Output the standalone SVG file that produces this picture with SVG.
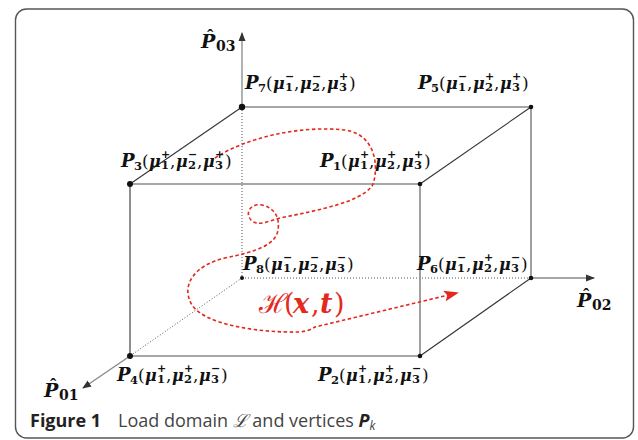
<svg xmlns="http://www.w3.org/2000/svg" width="638" height="440" viewBox="0 0 638 440">
<style>
.P{font-family:"DejaVu Serif",serif;font-weight:bold;font-style:italic;font-size:18px;fill:#111}
.M{font-family:"DejaVu Serif",serif;font-weight:bold;font-style:italic;font-size:16px;fill:#111}
.i{font-family:"DejaVu Serif",serif;font-weight:bold;font-size:11.5px;fill:#111}
.s{font-family:"DejaVu Sans",sans-serif;font-weight:bold;font-size:11px;fill:#111}
.r{font-family:"DejaVu Serif",serif;font-size:17px;fill:#111}
.AP{font-family:"DejaVu Serif",serif;font-weight:bold;font-style:italic;font-size:19px;fill:#111}
.Ah{font-family:"Liberation Serif",serif;font-weight:bold;font-size:19px;fill:#111}
.Ai{font-family:"DejaVu Serif",serif;font-weight:bold;font-size:14px;fill:#111}
.edge{stroke:#888;stroke-width:1.6;fill:none}
.dk{stroke:#333;stroke-width:1.1;fill:none}
.dot{stroke:#555;stroke-width:1;stroke-dasharray:1 2;fill:none}
.axis{stroke:#888;stroke-width:1.3;fill:none}
.red{stroke:#e3291d;stroke-width:1.6;stroke-dasharray:3.5 2.5;fill:none}
.v{fill:#111}
.cap{font-family:"Open Sans",sans-serif;font-size:18px;fill:#444}
</style>
<defs>
<marker id="ax" markerUnits="userSpaceOnUse" markerWidth="9" markerHeight="8" viewBox="0 0 9 8" refX="8" refY="4" orient="auto">
<path d="M0,0.5 L9,4 L0,7.5 z" fill="#333"/>
</marker>
<marker id="ra" markerUnits="userSpaceOnUse" markerWidth="15" markerHeight="11" viewBox="0 0 15 11" refX="13" refY="5.5" orient="auto">
<path d="M0,0 L15,5.5 L0,11 L3,5.5 z" fill="#e3291d"/>
</marker>
</defs>
<rect x="15.5" y="9" width="618" height="429" rx="11" fill="none" stroke="#555" stroke-width="1.4"/>

<g id="connectors">
<line class="dot" x1="242" y1="107" x2="242" y2="278"/>
<line class="dot" x1="242" y1="278" x2="531" y2="278" stroke="#888"/>
<line class="dot" x1="242" y1="278" x2="130" y2="356"/>
<line class="edge" x1="242" y1="107" x2="531" y2="107"/>
<line class="edge" x1="130" y1="184" x2="420" y2="184"/>
<line class="edge" x1="420" y1="184" x2="420" y2="356"/>
<line class="edge" x1="531" y1="107" x2="531" y2="278"/>
<line class="dk" x1="130" y1="184" x2="130" y2="356"/>
<line class="edge" x1="130" y1="356" x2="420" y2="356" stroke="#555"/>
<line class="dk" x1="242" y1="107" x2="130" y2="184"/>
<line class="dk" x1="531" y1="107" x2="420" y2="184"/>
<line class="dk" x1="531" y1="278" x2="420" y2="356"/>
<line class="axis" x1="242" y1="107" x2="242" y2="33" marker-end="url(#ax)"/>
<line class="axis" x1="531" y1="278" x2="594" y2="278" marker-end="url(#ax)"/>
<line class="axis" x1="130" y1="356" x2="83" y2="388" marker-end="url(#ax)"/>
<path class="red" marker-end="url(#ra)" d="M215 158 C245 138 300 125 345 130 C380 135 378 175 372 186 C360 202 320 210 280 218 C268 221 258 227 251 220 C244 212 252 203 262 205 C275 208 280 218 278 230 C276 245 255 252 225 258 C195 265 180 285 192 305 C205 325 260 333 300 332 C308 331 312 329 315 327 L457 293"/>
</g>

<g id="axis-labels">
<text><tspan class="AP" x="201" y="48">P</tspan><tspan class="Ah" x="207" y="42">ˆ</tspan><tspan class="Ai" x="216" y="51">03</tspan></text>
<text><tspan class="AP" x="577" y="307">P</tspan><tspan class="Ah" x="583" y="301">ˆ</tspan><tspan class="Ai" x="592" y="310">02</tspan></text>
<text><tspan class="AP" x="44" y="397">P</tspan><tspan class="Ah" x="50" y="391">ˆ</tspan><tspan class="Ai" x="59" y="400">01</tspan></text>
</g>

<g id="P7">
<circle class="v" cx="242" cy="107" r="3.2"/>
<text><tspan class="P" x="245" y="89">P</tspan><tspan class="i" x="258" y="92">7</tspan><tspan class="r" x="266" y="89">(</tspan><tspan class="M" x="273" y="89">μ</tspan><tspan class="s" x="285" y="80">−</tspan><tspan class="i" x="285" y="91">1</tspan><tspan class="r" x="294" y="89">,</tspan><tspan class="M" x="300" y="89">μ</tspan><tspan class="s" x="312" y="80">−</tspan><tspan class="i" x="312" y="91">2</tspan><tspan class="r" x="321" y="89">,</tspan><tspan class="M" x="327" y="89">μ</tspan><tspan class="s" x="339" y="80">+</tspan><tspan class="i" x="339" y="91">3</tspan><tspan class="r" x="349" y="89">)</tspan></text>
</g>
<g id="P5">
<circle class="v" cx="531" cy="107" r="2.3"/>
<text><tspan class="P" x="418" y="89">P</tspan><tspan class="i" x="431" y="92">5</tspan><tspan class="r" x="439" y="89">(</tspan><tspan class="M" x="446" y="89">μ</tspan><tspan class="s" x="458" y="80">−</tspan><tspan class="i" x="458" y="91">1</tspan><tspan class="r" x="467" y="89">,</tspan><tspan class="M" x="473" y="89">μ</tspan><tspan class="s" x="485" y="80">+</tspan><tspan class="i" x="485" y="91">2</tspan><tspan class="r" x="494" y="89">,</tspan><tspan class="M" x="500" y="89">μ</tspan><tspan class="s" x="512" y="80">+</tspan><tspan class="i" x="512" y="91">3</tspan><tspan class="r" x="522" y="89">)</tspan></text>
</g>
<g id="P3">
<circle class="v" cx="130" cy="184" r="3"/>
<text><tspan class="P" x="121" y="167">P</tspan><tspan class="i" x="134" y="170">3</tspan><tspan class="r" x="142" y="167">(</tspan><tspan class="M" x="149" y="167">μ</tspan><tspan class="s" x="161" y="158">+</tspan><tspan class="i" x="161" y="169">1</tspan><tspan class="r" x="170" y="167">,</tspan><tspan class="M" x="176" y="167">μ</tspan><tspan class="s" x="188" y="158">−</tspan><tspan class="i" x="188" y="169">2</tspan><tspan class="r" x="197" y="167">,</tspan><tspan class="M" x="203" y="167">μ</tspan><tspan class="s" x="215" y="158">+</tspan><tspan class="i" x="215" y="169">3</tspan><tspan class="r" x="225" y="167">)</tspan></text>
</g>
<g id="P1">
<circle class="v" cx="420" cy="184" r="2.3"/>
<text><tspan class="P" x="320" y="167">P</tspan><tspan class="i" x="333" y="170">1</tspan><tspan class="r" x="341" y="167">(</tspan><tspan class="M" x="348" y="167">μ</tspan><tspan class="s" x="360" y="158">+</tspan><tspan class="i" x="360" y="169">1</tspan><tspan class="r" x="369" y="167">,</tspan><tspan class="M" x="375" y="167">μ</tspan><tspan class="s" x="387" y="158">+</tspan><tspan class="i" x="387" y="169">2</tspan><tspan class="r" x="396" y="167">,</tspan><tspan class="M" x="402" y="167">μ</tspan><tspan class="s" x="414" y="158">+</tspan><tspan class="i" x="414" y="169">3</tspan><tspan class="r" x="424" y="167">)</tspan></text>
</g>
<g id="P8">
<circle class="v" cx="242" cy="278" r="2"/>
<text><tspan class="P" x="243" y="270">P</tspan><tspan class="i" x="256" y="273">8</tspan><tspan class="r" x="264" y="270">(</tspan><tspan class="M" x="271" y="270">μ</tspan><tspan class="s" x="283" y="261">−</tspan><tspan class="i" x="283" y="272">1</tspan><tspan class="r" x="292" y="270">,</tspan><tspan class="M" x="298" y="270">μ</tspan><tspan class="s" x="310" y="261">−</tspan><tspan class="i" x="310" y="272">2</tspan><tspan class="r" x="319" y="270">,</tspan><tspan class="M" x="325" y="270">μ</tspan><tspan class="s" x="337" y="261">−</tspan><tspan class="i" x="337" y="272">3</tspan><tspan class="r" x="347" y="270">)</tspan></text>
</g>
<g id="P6">
<circle class="v" cx="531" cy="278" r="2.3"/>
<text><tspan class="P" x="417" y="270">P</tspan><tspan class="i" x="430" y="273">6</tspan><tspan class="r" x="438" y="270">(</tspan><tspan class="M" x="445" y="270">μ</tspan><tspan class="s" x="457" y="261">−</tspan><tspan class="i" x="457" y="272">1</tspan><tspan class="r" x="466" y="270">,</tspan><tspan class="M" x="472" y="270">μ</tspan><tspan class="s" x="484" y="261">+</tspan><tspan class="i" x="484" y="272">2</tspan><tspan class="r" x="493" y="270">,</tspan><tspan class="M" x="499" y="270">μ</tspan><tspan class="s" x="511" y="261">−</tspan><tspan class="i" x="511" y="272">3</tspan><tspan class="r" x="521" y="270">)</tspan></text>
</g>
<g id="P4">
<circle class="v" cx="130" cy="356" r="3"/>
<text><tspan class="P" x="117" y="381">P</tspan><tspan class="i" x="130" y="384">4</tspan><tspan class="r" x="138" y="381">(</tspan><tspan class="M" x="145" y="381">μ</tspan><tspan class="s" x="157" y="372">+</tspan><tspan class="i" x="157" y="383">1</tspan><tspan class="r" x="166" y="381">,</tspan><tspan class="M" x="172" y="381">μ</tspan><tspan class="s" x="184" y="372">+</tspan><tspan class="i" x="184" y="383">2</tspan><tspan class="r" x="193" y="381">,</tspan><tspan class="M" x="199" y="381">μ</tspan><tspan class="s" x="211" y="372">−</tspan><tspan class="i" x="211" y="383">3</tspan><tspan class="r" x="221" y="381">)</tspan></text>
</g>
<g id="P2">
<circle class="v" cx="420" cy="356" r="2.3"/>
<text><tspan class="P" x="318" y="381">P</tspan><tspan class="i" x="331" y="384">2</tspan><tspan class="r" x="339" y="381">(</tspan><tspan class="M" x="346" y="381">μ</tspan><tspan class="s" x="358" y="372">+</tspan><tspan class="i" x="358" y="383">1</tspan><tspan class="r" x="367" y="381">,</tspan><tspan class="M" x="373" y="381">μ</tspan><tspan class="s" x="385" y="372">+</tspan><tspan class="i" x="385" y="383">2</tspan><tspan class="r" x="394" y="381">,</tspan><tspan class="M" x="400" y="381">μ</tspan><tspan class="s" x="412" y="372">−</tspan><tspan class="i" x="412" y="383">3</tspan><tspan class="r" x="422" y="381">)</tspan></text>
</g>

<g id="H-label">
<text font-family="'DejaVu Serif',serif" font-size="27" fill="#e3291d"><tspan x="259" y="313">ℋ</tspan><tspan x="284" y="313">(</tspan><tspan x="293" y="313" font-weight="bold" font-style="italic">x</tspan><tspan x="311" y="313">,</tspan><tspan x="320" y="313" font-weight="bold" font-style="italic">t</tspan><tspan x="334" y="313">)</tspan></text>
</g>

<g id="caption">
<text class="cap" x="30" y="427"><tspan font-weight="bold" fill="#222">Figure 1</tspan><tspan x="118">Load domain </tspan><tspan font-family="'DejaVu Serif',serif" font-style="italic">ℒ</tspan><tspan> and vertices </tspan><tspan font-weight="bold" font-style="italic" fill="#222">P</tspan><tspan font-style="italic" font-size="12" dy="3">k</tspan></text>
</g>
</svg>
